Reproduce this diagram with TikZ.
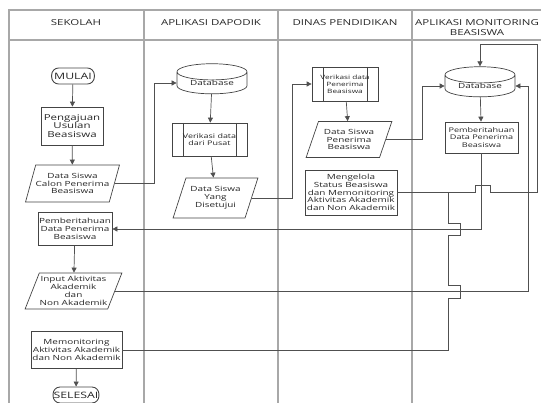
\documentclass[tikz,border=0pt]{standalone}
\usepackage{fontspec}
\setmainfont{Open Sans}[FakeStretch=1.4]
\usetikzlibrary{shapes.geometric,arrows.meta}
\definecolor{boxgray}{HTML}{444444}
\definecolor{linegray}{HTML}{505050}
\definecolor{lanegray}{HTML}{A8A8A8}
\definecolor{textgray}{HTML}{262626}

\tikzset{
  small/.style={font=\fontsize{7.1}{7.8}\selectfont},
  box/.style={rectangle,draw=boxgray,line width=0.7pt,align=center,text=textgray,inner sep=1pt,small},
  data/.style={trapezium,trapezium left angle=64,trapezium right angle=116,trapezium stretches=true,
    draw=boxgray,line width=0.7pt,align=center,text=textgray,inner sep=0pt,small},
  proc/.style={box,font=\fontsize{5.9}{7}\selectfont,path picture={
    \draw[boxgray,line width=0.7pt] ([xshift=11pt]path picture bounding box.north west) -- ([xshift=11pt]path picture bounding box.south west)
      ([xshift=-11pt]path picture bounding box.north east) -- ([xshift=-11pt]path picture bounding box.south east);}},
  db/.style={cylinder,shape border rotate=90,shape aspect=0.37,draw=boxgray,line width=0.7pt,text=textgray,
    minimum width=70pt,minimum height=30pt,inner sep=0pt,small},
  term/.style={rectangle,rounded corners=7pt,draw=boxgray,line width=0.9pt,text=textgray,
    font=\fontsize{8.8}{9}\selectfont,inner xsep=2.5pt,minimum height=16pt},
  flow/.style={draw=linegray,line width=0.7pt,-{Triangle[length=5pt,width=5pt]}},
  wire/.style={draw=linegray,line width=0.7pt},
  lane/.style={draw=lanegray,line width=1.2pt},
  title/.style={font=\fontsize{8.2}{10}\selectfont,text=textgray,align=center}
}

\begin{document}
\begin{tikzpicture}[x=1pt,y=-1pt]
\useasboundingbox (0,0) rectangle (541,403);
\clip (0,0) rectangle (541,403);
%Lanes
\draw[lane] (9,420) -- (9,10) -- (560,10);
\draw[lane] (9,40) -- (560,40);
\draw[lane] (144,10) -- (144,420);
\draw[lane] (278,10) -- (278,420);
\draw[lane] (412,10) -- (412,420);
\node[title] (sekolah) at (76,23) {SEKOLAH};
\node[title] (dapodik) at (211,23) {APLIKASI DAPODIK};
\node[title] (dinas) at (345,23) {DINAS PENDIDIKAN};
\node[title] (monitoring) at (477,27.5) {APLIKASI MONITORING\\BEASISWA};

%Sekolah
\node[term] (mulai) at (73,76) {MULAI};
\node[box,font=\fontsize{8.2}{8.8}\selectfont,minimum width=62pt,minimum height=38pt] (usulan) at (72,126) {Pengajuan\\Usulan\\Beasiswa};
\node[data,minimum width=91pt,minimum height=37pt] (calon) at (72.5,183.5) {Data Siswa\\Calon Penerima\\Beasiswa};
\node[box,minimum width=74pt,minimum height=33pt] (infoa) at (75,229) {Pemberitahuan\\Data Penerima\\Beasiswa};
\node[data,minimum width=97pt,minimum height=36pt] (input) at (73.5,291) {Input Aktivitas\\Akademik\\dan\\Non Akademik};
\node[box,minimum width=91pt,minimum height=37pt] (monitor) at (76.5,350) {Memonitoring\\Aktivitas Akademik\\dan Non Akademik};
\node[term,inner xsep=0.5pt] (selesai) at (76,395) {SELESAI};

%Dapodik
\node[db] (dbdapodik) at (212,83) {Database};
\node[proc,font=\fontsize{6.4}{7.6}\selectfont,minimum width=75pt,minimum height=33pt] (cekpusat) at (209.5,139.5) {Verikasi data\\dari Pusat};
\node[data,minimum width=85pt,minimum height=40pt] (setuju) at (215.5,198) {Data Siswa\\Yang\\Disetujui};

%Dinas
\node[proc,minimum width=66pt,minimum height=34pt] (cekdinas) at (345,84) {Verikasi data\\Penerima\\Beasiswa};
\node[data,minimum width=86pt,minimum height=36pt] (penerima) at (349,139.5) {Data Siswa\\Penerima\\Beasiswa};
\node[box,minimum width=92pt,minimum height=45pt] (kelola) at (351,192.5) {Mengelola\\Status Beasiswa\\dan Memonitoring\\Aktivitas Akademik\\dan Non Akademik};

%Monitoring
\node[db] (dbmonitor) at (480,86) {Database};
\node[box,font=\fontsize{6.5}{7.5}\selectfont,minimum width=73pt,minimum height=31pt] (infob) at (481.5,137.5) {Pemberitahuan\\Data Penerima\\Beasiswa};

%Arrows
\draw[flow] (mulai) -- (usulan);
\draw[flow] (usulan) -- (calon);
\draw[flow] (infoa) -- (input);
\draw[flow] (monitor) -- (selesai);
\draw[flow] (dbdapodik) -- (cekpusat);
\draw[flow] (cekpusat) -- (setuju);
\draw[flow] (cekdinas) -- (penerima);
\draw[flow] (dbmonitor) -- (infob);
\draw[flow] (calon.east) -| ([xshift=-22pt]dbdapodik.west) -- (dbdapodik.west);
\draw[flow] (setuju.east) -| ([xshift=-19pt]cekdinas.west) -- (cekdinas.west);
\draw[flow] (penerima.east) -| ([xshift=-22pt]dbmonitor.west) -- (dbmonitor.west);
\draw[flow] (infob.south) |- (infoa.east);
\draw[flow] (input.east) -| ([xshift=13pt]dbmonitor.east) -- (dbmonitor.east);
\draw[flow] (kelola.east) -- ++(78,0) -- ++(0,-7) -- ++(15,0) -- ++(0,7) -- ++(47,0) |- ([yshift=22pt]dbmonitor.north) -- (dbmonitor.north);
\draw[wire] (monitor.east) -- (448,350) -- (448,298) -- (460,298) -- (460,285) -- (448,285)
  -- (448,235) -- (460,235) -- (460,223) -- (448,223) -- (448,192.5);
\end{tikzpicture}
\end{document}
